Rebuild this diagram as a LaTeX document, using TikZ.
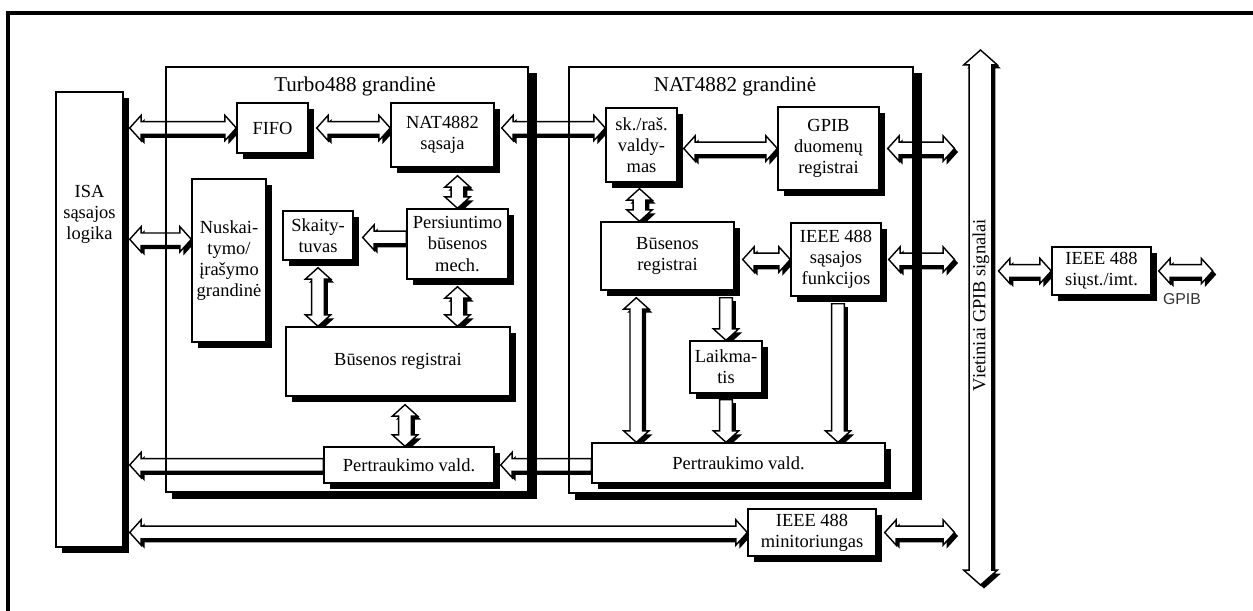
\documentclass[tikz,border=0pt]{standalone}
\usepackage{fontspec}
\setmainfont{Liberation Serif}
\newfontfamily\gpibfont{Liberation Sans}
\usepackage{tikz}
\usetikzlibrary{calc,shadows,backgrounds}

% bus arrow sizes: shaft half width, head half width, head length
\newcommand\bussh{3.6pt}
\newcommand\bushw{7.2pt}
\newcommand\bushl{6.5pt}

\tikzset{
  sz/.style 2 args={minimum width=#1*0.02cm, minimum height=#2*0.02cm},
  blk/.style={draw, fill=white, line width=0.8pt, inner sep=1pt, align=center,
    font=\fontsize{10.5}{12}\selectfont,
    drop shadow={shadow xshift=3.6pt, shadow yshift=-3.4pt, fill=black, opacity=1}},
  chip/.style={draw, line width=0.8pt, inner sep=0pt},
  ttl/.style={font=\fontsize{12}{14}\selectfont},
  busline/.style={draw, fill=white, line width=0.8pt, line join=miter,
    drop shadow={shadow xshift=2pt, shadow yshift=-2pt, fill=black, opacity=1}},
  % hollow bus, tips at both ends
  dbus/.style={busline, to path={
    let \p1=(\tikztostart), \p2=(\tikztotarget),
        \n1={(\x2-\x1)/veclen(\x2-\x1,\y2-\y1)},
        \n2={(\y2-\y1)/veclen(\x2-\x1,\y2-\y1)} in
    (\p1)
    -- ({\x1+\bushl*\n1-\bushw*\n2},{\y1+\bushl*\n2+\bushw*\n1})
    -- ({\x1+\bushl*\n1-\bussh*\n2},{\y1+\bushl*\n2+\bussh*\n1})
    -- ({\x2-\bushl*\n1-\bussh*\n2},{\y2-\bushl*\n2+\bussh*\n1})
    -- ({\x2-\bushl*\n1-\bushw*\n2},{\y2-\bushl*\n2+\bushw*\n1})
    -- (\p2)
    -- ({\x2-\bushl*\n1+\bushw*\n2},{\y2-\bushl*\n2-\bushw*\n1})
    -- ({\x2-\bushl*\n1+\bussh*\n2},{\y2-\bushl*\n2-\bussh*\n1})
    -- ({\x1+\bushl*\n1+\bussh*\n2},{\y1+\bushl*\n2-\bussh*\n1})
    -- ({\x1+\bushl*\n1+\bushw*\n2},{\y1+\bushl*\n2-\bushw*\n1})
    -- cycle}},
  % hollow bus, tip at the target only
  sbus/.style={busline, to path={
    let \p1=(\tikztostart), \p2=(\tikztotarget),
        \n1={(\x2-\x1)/veclen(\x2-\x1,\y2-\y1)},
        \n2={(\y2-\y1)/veclen(\x2-\x1,\y2-\y1)} in
    ({\x1-\bussh*\n2},{\y1+\bussh*\n1})
    -- ({\x2-\bushl*\n1-\bussh*\n2},{\y2-\bushl*\n2+\bussh*\n1})
    -- ({\x2-\bushl*\n1-\bushw*\n2},{\y2-\bushl*\n2+\bushw*\n1})
    -- (\p2)
    -- ({\x2-\bushl*\n1+\bushw*\n2},{\y2-\bushl*\n2-\bushw*\n1})
    -- ({\x2-\bushl*\n1+\bussh*\n2},{\y2-\bushl*\n2-\bussh*\n1})
    -- ({\x1+\bussh*\n2},{\y1-\bussh*\n1})
    -- cycle}},
  widebus/.code={\def\bussh{6.5pt}\def\bushw{9.6pt}\def\bushl{8.5pt}}
}

\begin{document}
\begin{tikzpicture}[x=0.02cm, y=-0.02cm]
  \useasboundingbox (0,0) rectangle (1253,611);

  % outer frame
  \draw[line width=2pt] (8,611) -- (8,13) -- (1253,13);

  % ISA side
  \node[blk, sz={67}{455}] (isa) at (89.5,319.5) {};
  \node[font=\fontsize{10.5}{12}\selectfont, align=center] (isatxt) at (89.5,214)
    {ISA\\sąsajos\\logika};

  % Turbo488 blocks
  \node[blk, sz={71}{50}] (fifo) at (272.5,128) {FIFO};
  \node[blk, sz={103}{64}] (natif) at (442.5,135) {NAT4882\\sąsaja};
  \node[blk, sz={74}{163}] (rw) at (229,260.5) {Nuskai-\\tymo/\\įrašymo\\grandinė};
  \node[blk, sz={70}{49}] (sk) at (318,235.5) {Skaity-\\tuvas};
  \node[blk, sz={101}{70}] (pm) at (457.5,244) {Persiuntimo\\būsenos\\mech.};
  \node[blk, sz={224}{69}] (tbr) at (398,361.5) {Būsenos registrai};
  \node[blk, sz={170}{36}] (tpr) at (409,465) {Pertraukimo vald.};

  % NAT4882 blocks
  \node[blk, sz={71}{74}] (skras) at (641.5,145) {sk./raš.\\valdy-\\mas};
  \node[blk, sz={101}{83}] (gdr) at (828.5,148.5) {GPIB\\duomenų\\registrai};
  \node[blk, sz={133}{68}] (nbr) at (667.5,256) {Būsenos\\registrai};
  \node[blk, sz={90}{73}] (ifn) at (836,259.5) {IEEE 488\\sąsajos\\funkcijos};
  \node[blk, sz={72}{52}] (lk) at (726,367) {Laikma-\\tis};
  \node[blk, sz={293}{40}] (npr) at (738.5,463) {Pertraukimo vald.};

  % outside blocks
  \node[blk, sz={128}{47}] (mon) at (812,532.5) {IEEE 488\\minitoriungas};
  \node[blk, sz={99}{48}] (txr) at (1101.5,271) {IEEE 488\\siųst./imt.};

  \node[ttl] (turbottl) at (355,86) {Turbo488 grandinė};
  \node[ttl] (natttl) at (735,86) {NAT4882 grandinė};
  \node[rotate=90, font=\fontsize{10.5}{12}\selectfont] (gtxt) at (981,305)
    {Vietiniai GPIB signalai};
  \node[font=\gpibfont\fontsize{9}{10}\selectfont, text=black!80] (gpiblbl) at (1182,299) {GPIB};

  \coordinate (isabus) at ($(isa.north east)+(6,0)$);
  \coordinate (gtop) at (980.5,50);
  \coordinate (gbot) at (980.5,585);
  \coordinate (gin) at ($(gtop)+(-26,0)$);
  \coordinate (gout) at ($(gtop)+(18,0)$);
  \coordinate (gpibend) at ($(txr.east)+(61,0)$);

  \begin{pgfonlayer}{background}
    % horizontal buses
    \draw[dbus] (isabus |- fifo.west) to (fifo.west);
    \draw[dbus] ($(fifo.east)+(8,0)$) to (natif.west |- fifo.east);
    \draw[dbus] ($(natif.east |- fifo.east)+(7,0)$) to (skras.west |- fifo.east);
    \draw[dbus] ($(skras.east |- gdr.west)+(6,0)$) to (gdr.west);
    \draw[dbus] ($(gdr.east)+(8,0)$) to (gin |- gdr.east);
    \draw[dbus] ($(nbr.east |- ifn.west)+(8,0)$) to (ifn.west);
    \draw[dbus] ($(ifn.east)+(7,0)$) to (gin |- ifn.east);
    \draw[dbus] (gout |- txr.west) to (txr.west);
    \draw[dbus] ($(txr.east)+(7,0)$) to (gpibend);
    \draw[dbus] ($(isabus |- rw.north west)+(0,61)$) to ($(rw.north west)+(0,61)$);
    \draw[sbus] ($(pm.west |- sk.east)+(0,2)$) to ($(sk.east)+(9,2)$);
    \draw[sbus] (tpr.west) to (isabus |- tpr.west);
    \draw[sbus] (npr.west |- tpr.east) to ($(tpr.east)+(6,0)$);
    \draw[dbus] (isabus |- mon.west) to (mon.west);
    \draw[dbus] ($(mon.east)+(8,0)$) to (gin |- mon.east);

    % vertical buses
    \draw[dbus] ($(pm.north |- natif.south)+(0,8)$) to (pm.north);
    \draw[dbus] ($(sk.south)+(0,7)$) to (sk.south |- tbr.north);
    \draw[dbus] ($(pm.south)+(0,7)$) to (pm.south |- tbr.north);
    \draw[dbus] ($(tpr.north |- tbr.south)+(-4,8)$) to ($(tpr.north)+(-4,0)$);
    \draw[dbus] ($(skras.south)+(-2,6)$) to ($(skras.south |- nbr.north)+(-2,0)$);
    \draw[dbus] ($(nbr.south west)+(36,7)$) to ($(nbr.south west |- npr.north)+(36,0)$);
    \draw[sbus] ($(lk.north |- nbr.south)+(0,7)$) to (lk.north);
    \draw[sbus] ($(lk.south)+(0,6)$) to (lk.south |- npr.north);
    \draw[sbus] ($(ifn.south)+(2,7)$) to ($(ifn.south |- npr.north)+(2,0)$);
    \draw[dbus, widebus] (gbot) to (gtop);

    % chip outlines
    \node[chip, sz={362}{425}] (turbo) at (347,279.5) {};
    \node[chip, sz={344}{426}] (nat) at (741,280) {};
    \foreach \c in {turbo,nat} {
      \fill ($(\c.north east)+(0,7)$) rectangle ($(\c.south east)+(8,6)$);
      \fill ($(\c.south west)+(7,0)$) rectangle ($(\c.south east)+(8,6)$);
    }
  \end{pgfonlayer}
\end{tikzpicture}
\end{document}
